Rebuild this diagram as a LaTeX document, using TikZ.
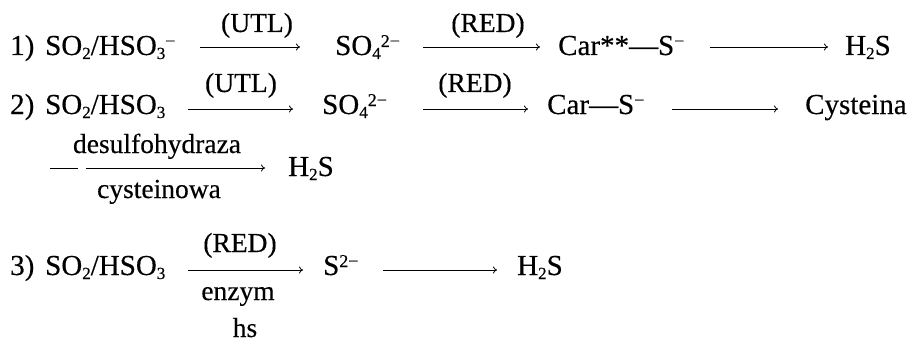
\documentclass[tikz,border=0pt]{standalone}
\usepackage{fontspec}
\setmainfont{Liberation Serif}[FakeBold=0.35]
\usetikzlibrary{arrows.meta}
\newcommand{\dn}[1]{\raisebox{-4pt}{\fontsize{17}{17}\selectfont #1}}
\newcommand{\up}[1]{\raisebox{8pt}{\fontsize{18}{18}\selectfont #1}}
\begin{document}
\begin{tikzpicture}[x=1pt,y=-1pt,
  txt/.style={anchor=base west,inner sep=0pt,font=\fontsize{29}{34}\selectfont},
  lbl/.style={anchor=base,inner sep=0pt,font=\fontsize{27.5}{32}\selectfont},
  rxn/.style={line width=0.8pt,-{To[length=4pt,width=7pt]}},
  seg/.style={line width=0.8pt}]
\useasboundingbox (0,0) rectangle (911,345);
% ---- row 1
\node[txt] (r1n) at (10,55) {1)};
\node[txt] (r1a) at (45,55) {SO\dn{2}/HSO\dn{3}\up{−}};
\coordinate (r1p1s) at (200,47); \coordinate (r1p1e) at (300,47);
\draw[rxn] (r1p1s) -- (r1p1e);
\node[lbl] (r1l1) at (257,32) {(UTL)};
\node[txt] (r1b) at (335,55) {SO\dn{4}\up{2−}};
\coordinate (r1p2s) at (423,47); \coordinate (r1p2e) at (540,47);
\draw[rxn] (r1p2s) -- (r1p2e);
\node[lbl] (r1l2) at (488,32) {(RED)};
\node[txt] (r1c) at (558,55) {Car**—S\up{−}};
\coordinate (r1p3s) at (710,47); \coordinate (r1p3e) at (828,47);
\draw[rxn] (r1p3s) -- (r1p3e);
\node[txt] (r1d) at (845,55) {H\dn{2}S};
% ---- row 2
\node[txt] (r2n) at (10,114) {2)};
\node[txt] (r2a) at (45,114) {SO\dn{2}/HSO\dn{3}};
\coordinate (r2p1s) at (188,109); \coordinate (r2p1e) at (293,109);
\draw[rxn] (r2p1s) -- (r2p1e);
\node[lbl] (r2l1) at (241,92) {(UTL)};
\node[txt] (r2b) at (322,114) {SO\dn{4}\up{2−}};
\coordinate (r2p2s) at (423,109); \coordinate (r2p2e) at (528,109);
\draw[rxn] (r2p2s) -- (r2p2e);
\node[lbl] (r2l2) at (475,92) {(RED)};
\node[txt] (r2c) at (547,114) {Car—S\up{−}};
\coordinate (r2p3s) at (672,109); \coordinate (r2p3e) at (778,109);
\draw[rxn] (r2p3s) -- (r2p3e);
\node[txt] (r2d) at (805,114) {Cysteina};
% ---- row 2 continued
\coordinate (r2q0s) at (50,168); \coordinate (r2q0e) at (78,168);
\draw[seg] (r2q0s) -- (r2q0e);
\coordinate (r2q1s) at (86,168); \coordinate (r2q1e) at (265,168);
\draw[rxn] (r2q1s) -- (r2q1e);
\node[lbl] (r2l3) at (157,153) {desulfohydraza};
\node[lbl] (r2l4) at (159,198) {cysteinowa};
\node[txt] (r2e) at (288,176) {H\dn{2}S};
% ---- row 3
\node[txt] (r3n) at (10,275) {3)};
\node[txt] (r3a) at (45,275) {SO\dn{2}/HSO\dn{3}};
\coordinate (r3p1s) at (188,270); \coordinate (r3p1e) at (303,270);
\draw[rxn] (r3p1s) -- (r3p1e);
\node[lbl] (r3l1) at (240,252) {(RED)};
\node[lbl] (r3l2) at (238,300) {enzym};
\node[lbl] (r3l3) at (245,337) {hs};
\node[txt] (r3b) at (323,275) {S\up{2−}};
\coordinate (r3p2s) at (383,270); \coordinate (r3p2e) at (497,270);
\draw[rxn] (r3p2s) -- (r3p2e);
\node[txt] (r3c) at (517,275) {H\dn{2}S};
\end{tikzpicture}
\end{document}
